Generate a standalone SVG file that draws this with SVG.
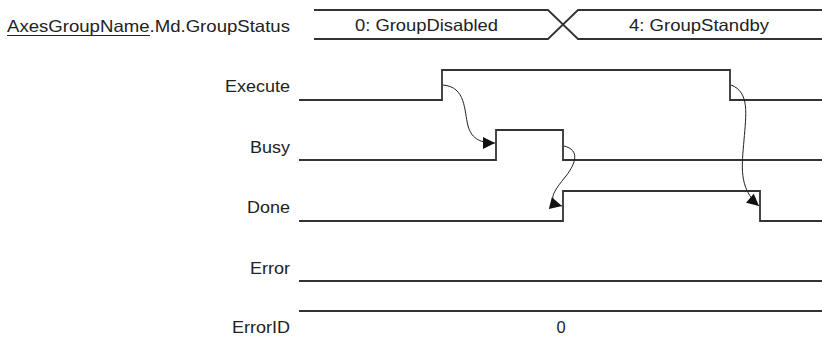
<svg xmlns="http://www.w3.org/2000/svg" width="822" height="339" viewBox="0 0 822 339">
<style>
.lbl{font-family:"Liberation Sans",Arial,sans-serif;font-size:16.5px;fill:#222;}
.end{text-anchor:end;}
.mid{text-anchor:middle;}
.sig{fill:none;stroke:#333;stroke-width:1.8;}
.cur{fill:none;stroke:#222;stroke-width:1;}
</style>
<defs>
<marker id="ah" viewBox="0 0 10 10" refX="10" refY="5" markerWidth="13" markerHeight="12" markerUnits="userSpaceOnUse" orient="auto">
<path d="M0,0 L10,5 L0,10 Z" fill="#111"/>
</marker>
</defs>
<rect width="822" height="339" fill="#fff"/>
<g id="status">
<text class="lbl" x="7" y="32" textLength="283" lengthAdjust="spacingAndGlyphs">AxesGroupName.Md.GroupStatus</text>
<line x1="7" y1="35.5" x2="150" y2="35.5" stroke="#222" stroke-width="1.2"/>
<path class="sig" stroke-width="1.5" d="M314,10 H548 L578,39 H822"/>
<path class="sig" stroke-width="1.5" d="M314,39 H548 L578,10 H822"/>
<text class="lbl mid" x="426.5" y="31" textLength="143" lengthAdjust="spacingAndGlyphs">0: GroupDisabled</text>
<text class="lbl mid" x="699" y="31" textLength="140" lengthAdjust="spacingAndGlyphs">4: GroupStandby</text>
</g>
<g id="execute">
<text class="lbl end" x="290" y="92" textLength="65" lengthAdjust="spacingAndGlyphs">Execute</text>
<path class="sig" d="M299,100 H442 V70 H730 V100 H822"/>
</g>
<g id="busy">
<text class="lbl end" x="290" y="153" textLength="40" lengthAdjust="spacingAndGlyphs">Busy</text>
<path class="sig" d="M299,160 H496 V130 H563 V160 H822"/>
</g>
<g id="done">
<text class="lbl end" x="290" y="213" textLength="43" lengthAdjust="spacingAndGlyphs">Done</text>
<path class="sig" d="M299,221 H563 V191 H760 V221 H822"/>
</g>
<g id="error">
<text class="lbl end" x="290" y="274" textLength="40" lengthAdjust="spacingAndGlyphs">Error</text>
<path class="sig" d="M299,281 H822"/>
</g>
<g id="errorid">
<text class="lbl end" x="290" y="333" textLength="58" lengthAdjust="spacingAndGlyphs">ErrorID</text>
<path class="sig" d="M299,311 H822"/>
<text class="lbl mid" x="561" y="333">0</text>
</g>
<g id="connectors">
<path class="cur" marker-end="url(#ah)" d="M443,85 C466,87 464,110 468,126 C472,140 482,143 495,143"/>
<path class="cur" marker-end="url(#ah)" d="M564,146 C580,150 576,163 566,176 C553,192 546,202 562,206"/>
<path class="cur" marker-end="url(#ah)" d="M731,85 C750,92 746,115 744,140 C742,165 738,188 759,206"/>
</g>
</svg>
